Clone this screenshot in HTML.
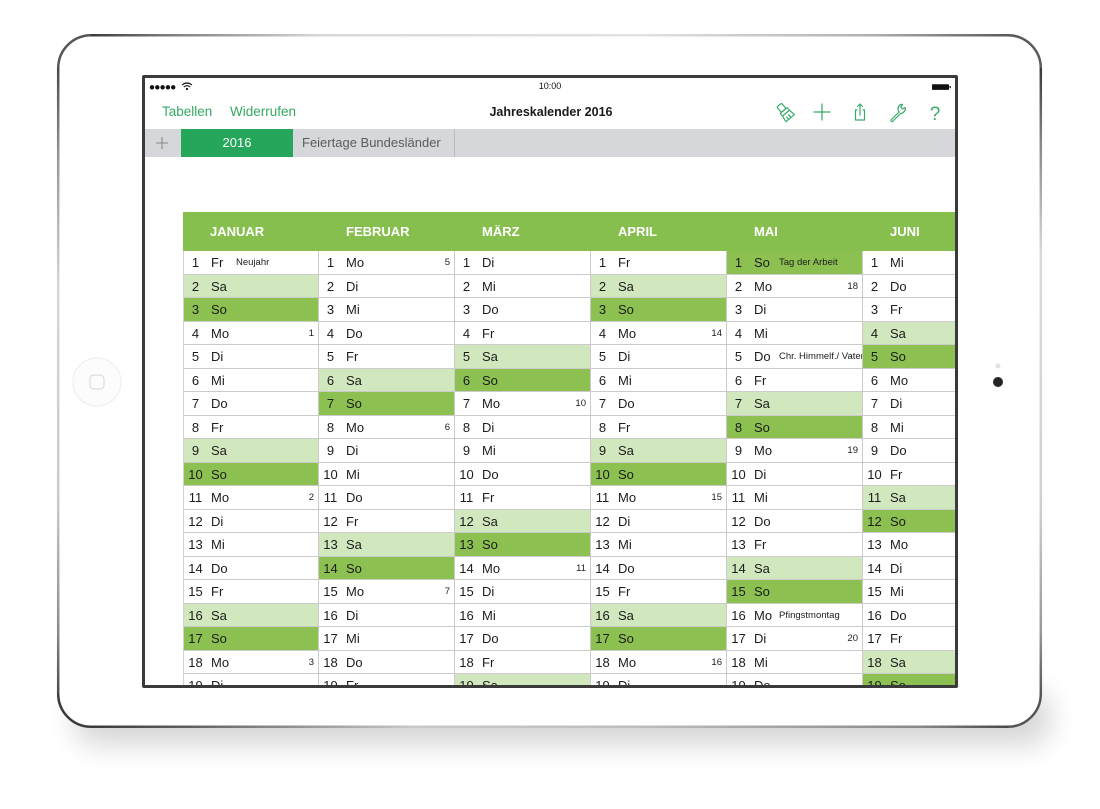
<!DOCTYPE html>
<html><head><meta charset="utf-8">
<style>
*{margin:0;padding:0;box-sizing:border-box}
html,body{width:1100px;height:809px;overflow:hidden;background:#fff}
body{position:relative;font-family:"Liberation Sans",Arial,sans-serif}
.scr{position:absolute;left:142px;top:75px;width:816px;height:613px;border:3px solid #3a3a3a;overflow:hidden;background:#fff;border-radius:2px}
.abs{position:absolute}
.nav{position:absolute;top:24px;height:20px;line-height:20px;font-size:13.5px;color:#35a964;white-space:nowrap}
.title{position:absolute;left:306px;width:200px;top:24px;line-height:20px;text-align:center;font-size:12.5px;font-weight:bold;color:#1a1a1a}
.tabbar{position:absolute;left:0;top:51px;width:810px;height:28px;background:#d6d7da}
.tab{position:absolute;left:36px;top:0;width:112px;height:28px;background:#25a65a;color:#fff;font-size:13px;line-height:28px;text-align:center}
.tab2{position:absolute;left:157px;top:0;height:28px;line-height:28px;font-size:13px;color:#5c5c5c;white-space:nowrap}
.sep{position:absolute;left:309px;top:0;width:1px;height:28px;background:#b9babd}
.hd{position:absolute;left:38px;top:134px;width:800px;height:39px;background:#86bf4e}
.hd span{position:absolute;top:0;line-height:39px;font-size:13px;font-weight:bold;color:#fff}
.col{position:absolute;top:173px;width:136px}
.c0{border-left:1px solid #d4d4d4}
.r{position:relative;height:23.5px;border-bottom:1px solid #cbcbcb;border-right:1px solid #cbcbcb;overflow:hidden;font-size:13px;line-height:23px;color:#1c1c1c;white-space:nowrap;background:#fff}
.r.a{background:#d1e7bd}
.r.o{background:#8cc152}
.n{position:absolute;left:0;width:23px;text-align:center}
.d{position:absolute;left:27px}
.h{position:absolute;left:52px;font-size:9.5px}
.w{position:absolute;right:4px;font-size:9.5px}
</style></head><body>
<svg width="1100" height="809" style="position:absolute;left:0;top:0">
<defs>
<filter id="bl" x="-20%" y="-100%" width="140%" height="300%"><feGaussianBlur stdDeviation="14"/></filter>
<linearGradient id="gt" gradientUnits="userSpaceOnUse" x1="91" y1="0" x2="1008" y2="0">
<stop offset="0" stop-color="#3c3c3c"/><stop offset="0.08" stop-color="#7a7a7a"/><stop offset="0.25" stop-color="#d8d8d8"/><stop offset="0.6" stop-color="#e2e2e2"/><stop offset="0.85" stop-color="#b0b0b0"/><stop offset="1" stop-color="#5a5a5a"/>
</linearGradient>
<linearGradient id="gb" gradientUnits="userSpaceOnUse" x1="91" y1="0" x2="1008" y2="0">
<stop offset="0" stop-color="#3a3a3a"/><stop offset="0.12" stop-color="#666"/><stop offset="0.35" stop-color="#c8c8c8"/><stop offset="0.6" stop-color="#bdbdbd"/><stop offset="0.9" stop-color="#8a8a8a"/><stop offset="1" stop-color="#4a4a4a"/>
</linearGradient>
<linearGradient id="gl" gradientUnits="userSpaceOnUse" x1="0" y1="68" x2="0" y2="694">
<stop offset="0" stop-color="#4a4a4a"/><stop offset="0.15" stop-color="#9a9a9a"/><stop offset="0.35" stop-color="#d6d6d6"/><stop offset="0.7" stop-color="#c9c9c9"/><stop offset="0.9" stop-color="#8a8a8a"/><stop offset="1" stop-color="#4a4a4a"/>
</linearGradient>
<linearGradient id="gr" gradientUnits="userSpaceOnUse" x1="0" y1="68" x2="0" y2="694">
<stop offset="0" stop-color="#3a3a3a"/><stop offset="0.12" stop-color="#888"/><stop offset="0.3" stop-color="#dadada"/><stop offset="0.7" stop-color="#d0d0d0"/><stop offset="0.9" stop-color="#999"/><stop offset="1" stop-color="#555"/>
</linearGradient>
</defs>
<rect x="75" y="690" width="975" height="55" rx="20" fill="#000" opacity="0.16" filter="url(#bl)"/>
<rect x="57" y="34" width="985" height="694" rx="34" fill="#fff"/>
<g fill="none" stroke-width="2.5">
<path d="M91 35.2 H1008" stroke="url(#gt)"/>
<path d="M91 726.8 H1008" stroke="url(#gb)"/>
<path d="M58.2 68 V694" stroke="url(#gl)"/>
<path d="M1040.8 68 V694" stroke="url(#gr)"/>
<path d="M58.2 68 A33 33 0 0 1 91 35.2" stroke="#555"/>
<path d="M1008 35.2 A33 33 0 0 1 1040.8 68" stroke="#5a5a5a"/>
<path d="M1040.8 694 A33 33 0 0 1 1008 726.8" stroke="#555"/>
<path d="M91 726.8 A33 33 0 0 1 58.2 694" stroke="#3a3a3a"/>
</g>
<circle cx="97" cy="382" r="24" fill="#fcfcfc" stroke="#ededed" stroke-width="1"/>
<rect x="90" y="375" width="14" height="14" rx="4" fill="none" stroke="#dcdcdc" stroke-width="1.2"/>
<circle cx="998" cy="366" r="2.5" fill="#e2e2e2"/>
<circle cx="998" cy="382" r="5" fill="#262626"/>
</svg>

<div class="scr">
  <!-- status bar -->
  <svg class="abs" style="left:0;top:0" width="810" height="20">
    <g fill="#111">
      <circle cx="7" cy="9.3" r="2.2"/><circle cx="12.3" cy="9.3" r="2.2"/><circle cx="17.6" cy="9.3" r="2.2"/><circle cx="22.9" cy="9.3" r="2.2"/><circle cx="28.2" cy="9.3" r="2.2"/>
    </g>
    <g fill="none" stroke="#111" stroke-width="1.1">
      <path d="M37 7 Q42 3 47 7"/><path d="M38.8 9 Q42 6.3 45.2 9"/>
    </g>
    <circle cx="42" cy="11" r="1.1" fill="#111"/>
    <text x="405" y="11" text-anchor="middle" font-family="Liberation Sans, Arial, sans-serif" font-size="9" fill="#111">10:00</text>
    <rect x="787" y="6.3" width="17" height="5.6" rx="0.8" fill="#111"/>
    <rect x="804.5" y="8" width="1.3" height="2.2" fill="#111"/>
  </svg>
  <div class="nav" style="left:17px">Tabellen</div>
  <div class="nav" style="left:85px">Widerrufen</div>
  <div class="title">Jahreskalender 2016</div>
  <!-- icons -->
  <svg class="abs" style="left:625px;top:22px" width="185" height="24">
    <g fill="none" stroke="#3aaa69" stroke-width="1.2" stroke-linecap="round" stroke-linejoin="round">
      <g transform="translate(15 12) rotate(-40)">
        <rect x="-3" y="-9" width="6" height="7" rx="1.2"/>
        <path d="M-4.5 -2 H4.5 V1.5 H-4.5 Z"/>
        <path d="M-4.5 1.5 L-5.5 8 H5.5 L4.5 1.5"/>
        <path d="M-2 8 V5 M1 8 V4.5"/>
      </g>
      <path d="M52 4 V20 M44 12 H60"/>
      <path d="M87 10 H85.5 V20 H94.5 V10 H93 M90 15 V4 M87.5 6.5 L90 4 L92.5 6.5"/>
      <path d="M121 20 L129 12 M122.5 21.5 L130.5 13.5 M121 20 Q120.5 21.7 122.5 21.5"/>
      <path d="M129 12 Q126.5 7 130.5 4.5 L132.5 4.3 L130.8 7 L132.5 9 L135 7.5 L135.5 9 Q134 13.5 130.5 13.5"/>
    </g>
    <text x="165" y="20" text-anchor="middle" font-family="Liberation Sans, Arial, sans-serif" font-size="19" fill="#3aaa69">?</text>
  </svg>
  <!-- tab bar -->
  <div class="tabbar">
    <svg class="abs" style="left:9px;top:6px" width="16" height="16"><path d="M8 2 V14 M2 8 H14" stroke="#8a8a8c" stroke-width="1.1" fill="none"/></svg>
    <div class="tab">2016</div>
    <div class="tab2">Feiertage Bundesländer</div>
    <div class="sep"></div>
  </div>
  <!-- table header -->
  <div class="hd">
    <span style="left:27px">JANUAR</span>
    <span style="left:163px">FEBRUAR</span>
    <span style="left:299px">MÄRZ</span>
    <span style="left:435px">APRIL</span>
    <span style="left:571px">MAI</span>
    <span style="left:707px">JUNI</span>
  </div>

  <!-- Januar -->
  <div class="col c0" style="left:38px">
    <div class="r"><span class="n">1</span><span class="d">Fr</span><span class="h">Neujahr</span></div>
    <div class="r a"><span class="n">2</span><span class="d">Sa</span></div>
    <div class="r o"><span class="n">3</span><span class="d">So</span></div>
    <div class="r"><span class="n">4</span><span class="d">Mo</span><span class="w">1</span></div>
    <div class="r"><span class="n">5</span><span class="d">Di</span></div>
    <div class="r"><span class="n">6</span><span class="d">Mi</span></div>
    <div class="r"><span class="n">7</span><span class="d">Do</span></div>
    <div class="r"><span class="n">8</span><span class="d">Fr</span></div>
    <div class="r a"><span class="n">9</span><span class="d">Sa</span></div>
    <div class="r o"><span class="n">10</span><span class="d">So</span></div>
    <div class="r"><span class="n">11</span><span class="d">Mo</span><span class="w">2</span></div>
    <div class="r"><span class="n">12</span><span class="d">Di</span></div>
    <div class="r"><span class="n">13</span><span class="d">Mi</span></div>
    <div class="r"><span class="n">14</span><span class="d">Do</span></div>
    <div class="r"><span class="n">15</span><span class="d">Fr</span></div>
    <div class="r a"><span class="n">16</span><span class="d">Sa</span></div>
    <div class="r o"><span class="n">17</span><span class="d">So</span></div>
    <div class="r"><span class="n">18</span><span class="d">Mo</span><span class="w">3</span></div>
    <div class="r"><span class="n">19</span><span class="d">Di</span></div>
  </div>

  <!-- Februar -->
  <div class="col" style="left:174px">
    <div class="r"><span class="n">1</span><span class="d">Mo</span><span class="w">5</span></div>
    <div class="r"><span class="n">2</span><span class="d">Di</span></div>
    <div class="r"><span class="n">3</span><span class="d">Mi</span></div>
    <div class="r"><span class="n">4</span><span class="d">Do</span></div>
    <div class="r"><span class="n">5</span><span class="d">Fr</span></div>
    <div class="r a"><span class="n">6</span><span class="d">Sa</span></div>
    <div class="r o"><span class="n">7</span><span class="d">So</span></div>
    <div class="r"><span class="n">8</span><span class="d">Mo</span><span class="w">6</span></div>
    <div class="r"><span class="n">9</span><span class="d">Di</span></div>
    <div class="r"><span class="n">10</span><span class="d">Mi</span></div>
    <div class="r"><span class="n">11</span><span class="d">Do</span></div>
    <div class="r"><span class="n">12</span><span class="d">Fr</span></div>
    <div class="r a"><span class="n">13</span><span class="d">Sa</span></div>
    <div class="r o"><span class="n">14</span><span class="d">So</span></div>
    <div class="r"><span class="n">15</span><span class="d">Mo</span><span class="w">7</span></div>
    <div class="r"><span class="n">16</span><span class="d">Di</span></div>
    <div class="r"><span class="n">17</span><span class="d">Mi</span></div>
    <div class="r"><span class="n">18</span><span class="d">Do</span></div>
    <div class="r"><span class="n">19</span><span class="d">Fr</span></div>
  </div>

  <!-- März -->
  <div class="col" style="left:310px">
    <div class="r"><span class="n">1</span><span class="d">Di</span></div>
    <div class="r"><span class="n">2</span><span class="d">Mi</span></div>
    <div class="r"><span class="n">3</span><span class="d">Do</span></div>
    <div class="r"><span class="n">4</span><span class="d">Fr</span></div>
    <div class="r a"><span class="n">5</span><span class="d">Sa</span></div>
    <div class="r o"><span class="n">6</span><span class="d">So</span></div>
    <div class="r"><span class="n">7</span><span class="d">Mo</span><span class="w">10</span></div>
    <div class="r"><span class="n">8</span><span class="d">Di</span></div>
    <div class="r"><span class="n">9</span><span class="d">Mi</span></div>
    <div class="r"><span class="n">10</span><span class="d">Do</span></div>
    <div class="r"><span class="n">11</span><span class="d">Fr</span></div>
    <div class="r a"><span class="n">12</span><span class="d">Sa</span></div>
    <div class="r o"><span class="n">13</span><span class="d">So</span></div>
    <div class="r"><span class="n">14</span><span class="d">Mo</span><span class="w">11</span></div>
    <div class="r"><span class="n">15</span><span class="d">Di</span></div>
    <div class="r"><span class="n">16</span><span class="d">Mi</span></div>
    <div class="r"><span class="n">17</span><span class="d">Do</span></div>
    <div class="r"><span class="n">18</span><span class="d">Fr</span></div>
    <div class="r a"><span class="n">19</span><span class="d">Sa</span></div>
  </div>

  <!-- April -->
  <div class="col" style="left:446px">
    <div class="r"><span class="n">1</span><span class="d">Fr</span></div>
    <div class="r a"><span class="n">2</span><span class="d">Sa</span></div>
    <div class="r o"><span class="n">3</span><span class="d">So</span></div>
    <div class="r"><span class="n">4</span><span class="d">Mo</span><span class="w">14</span></div>
    <div class="r"><span class="n">5</span><span class="d">Di</span></div>
    <div class="r"><span class="n">6</span><span class="d">Mi</span></div>
    <div class="r"><span class="n">7</span><span class="d">Do</span></div>
    <div class="r"><span class="n">8</span><span class="d">Fr</span></div>
    <div class="r a"><span class="n">9</span><span class="d">Sa</span></div>
    <div class="r o"><span class="n">10</span><span class="d">So</span></div>
    <div class="r"><span class="n">11</span><span class="d">Mo</span><span class="w">15</span></div>
    <div class="r"><span class="n">12</span><span class="d">Di</span></div>
    <div class="r"><span class="n">13</span><span class="d">Mi</span></div>
    <div class="r"><span class="n">14</span><span class="d">Do</span></div>
    <div class="r"><span class="n">15</span><span class="d">Fr</span></div>
    <div class="r a"><span class="n">16</span><span class="d">Sa</span></div>
    <div class="r o"><span class="n">17</span><span class="d">So</span></div>
    <div class="r"><span class="n">18</span><span class="d">Mo</span><span class="w">16</span></div>
    <div class="r"><span class="n">19</span><span class="d">Di</span></div>
  </div>

  <!-- Mai -->
  <div class="col" style="left:582px">
    <div class="r o"><span class="n">1</span><span class="d">So</span><span class="h">Tag der Arbeit</span></div>
    <div class="r"><span class="n">2</span><span class="d">Mo</span><span class="w">18</span></div>
    <div class="r"><span class="n">3</span><span class="d">Di</span></div>
    <div class="r"><span class="n">4</span><span class="d">Mi</span></div>
    <div class="r"><span class="n">5</span><span class="d">Do</span><span class="h">Chr. Himmelf./ Vatertag</span></div>
    <div class="r"><span class="n">6</span><span class="d">Fr</span></div>
    <div class="r a"><span class="n">7</span><span class="d">Sa</span></div>
    <div class="r o"><span class="n">8</span><span class="d">So</span></div>
    <div class="r"><span class="n">9</span><span class="d">Mo</span><span class="w">19</span></div>
    <div class="r"><span class="n">10</span><span class="d">Di</span></div>
    <div class="r"><span class="n">11</span><span class="d">Mi</span></div>
    <div class="r"><span class="n">12</span><span class="d">Do</span></div>
    <div class="r"><span class="n">13</span><span class="d">Fr</span></div>
    <div class="r a"><span class="n">14</span><span class="d">Sa</span></div>
    <div class="r o"><span class="n">15</span><span class="d">So</span></div>
    <div class="r"><span class="n">16</span><span class="d">Mo</span><span class="h">Pfingstmontag</span></div>
    <div class="r"><span class="n">17</span><span class="d">Di</span><span class="w">20</span></div>
    <div class="r"><span class="n">18</span><span class="d">Mi</span></div>
    <div class="r"><span class="n">19</span><span class="d">Do</span></div>
  </div>

  <!-- Juni -->
  <div class="col" style="left:718px">
    <div class="r"><span class="n">1</span><span class="d">Mi</span></div>
    <div class="r"><span class="n">2</span><span class="d">Do</span></div>
    <div class="r"><span class="n">3</span><span class="d">Fr</span></div>
    <div class="r a"><span class="n">4</span><span class="d">Sa</span></div>
    <div class="r o"><span class="n">5</span><span class="d">So</span></div>
    <div class="r"><span class="n">6</span><span class="d">Mo</span><span class="w">23</span></div>
    <div class="r"><span class="n">7</span><span class="d">Di</span></div>
    <div class="r"><span class="n">8</span><span class="d">Mi</span></div>
    <div class="r"><span class="n">9</span><span class="d">Do</span></div>
    <div class="r"><span class="n">10</span><span class="d">Fr</span></div>
    <div class="r a"><span class="n">11</span><span class="d">Sa</span></div>
    <div class="r o"><span class="n">12</span><span class="d">So</span></div>
    <div class="r"><span class="n">13</span><span class="d">Mo</span><span class="w">24</span></div>
    <div class="r"><span class="n">14</span><span class="d">Di</span></div>
    <div class="r"><span class="n">15</span><span class="d">Mi</span></div>
    <div class="r"><span class="n">16</span><span class="d">Do</span></div>
    <div class="r"><span class="n">17</span><span class="d">Fr</span></div>
    <div class="r a"><span class="n">18</span><span class="d">Sa</span></div>
    <div class="r o"><span class="n">19</span><span class="d">So</span></div>
  </div>
</div>
</body></html>
